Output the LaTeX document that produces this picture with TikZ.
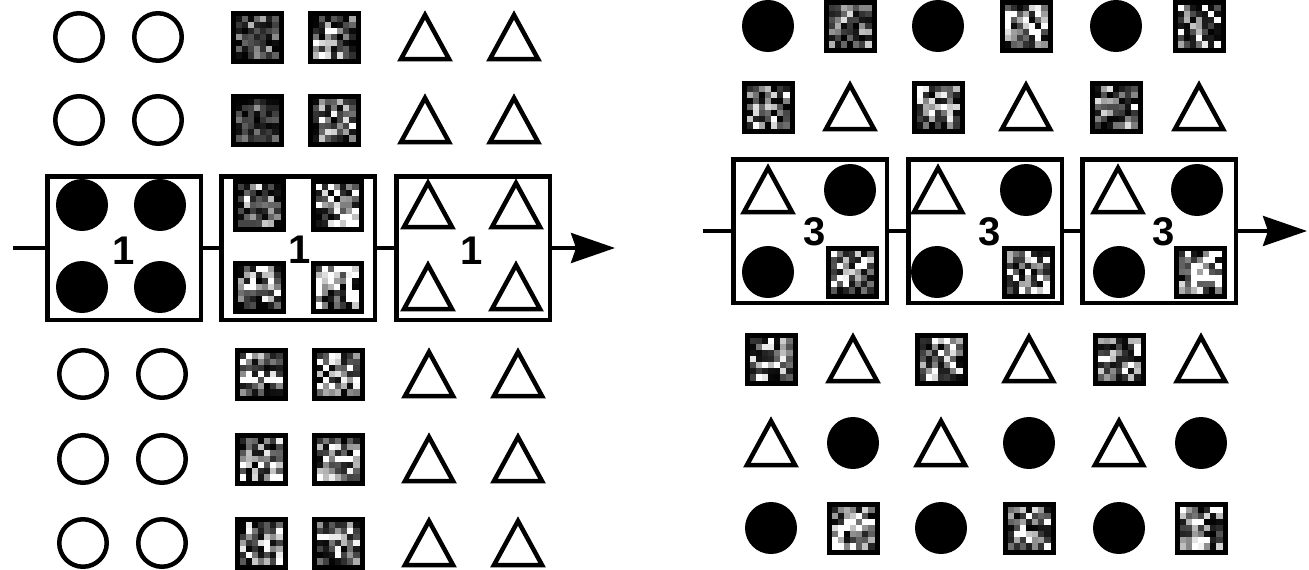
\documentclass[tikz,border=0pt]{standalone}
\usepackage{fontspec}
\setsansfont{Liberation Sans}
\usetikzlibrary{arrows.meta}
\newcommand\texsq[4]{%
  \foreach \i in {0,...,6}{\foreach \j in {0,...,6}{%
    \pgfmathtruncatemacro\g{max(0,100-#4*rnd*rnd)}%
    \fill[black!\g] ({#2-21.5+\i*6.143},{#3-21.5+\j*6.143}) rectangle ++(6.143,6.143);
  }}%
  \node[sqframe] (#1) at ({#2},{#3}) {};%
}
\newcommand\tria[3]{%
  \coordinate (#1) at ({#2},{#3});%
  \draw[tri] ({#2-24},{#3+22}) -- ({#2},{#3-22}) -- ({#2+24},{#3+22}) -- cycle;%
}
\begin{document}
\pgfmathsetseed{4711}
\begin{tikzpicture}[x=1pt,y=-1pt,
  ring/.style={circle, draw=black, line width=4.5pt, minimum size=47.5pt, inner sep=0pt},
  dot/.style={circle, fill=black, draw=black, line width=2pt, minimum size=50pt, inner sep=0pt},
  sqframe/.style={rectangle, draw=black, line width=5pt, minimum size=48pt, inner sep=0pt},
  tri/.style={draw=black, line width=4.5pt, line join=miter},
  group/.style={rectangle, draw=black, line width=4.5pt, minimum width=153.5pt, minimum height=143.5pt, inner sep=0pt},
  num/.style={font=\sffamily\bfseries\fontsize{40}{46}\selectfont, inner sep=0pt},
  link/.style={line width=3.5pt},
  flow/.style={line width=3.5pt, -{Stealth[length=44pt,width=30pt,inset=5pt]}}]
\useasboundingbox (0,0) rectangle (1309,570);
\fill[white] (0,0) rectangle (1309,570);

% ---------------- left panel ----------------
\foreach \r/\y/\d/\la/\lb in {1/37/0/90/140, 2/120/0/60/150, 5/374/4/200/190, 6/459/4/170/170, 7/543/4/200/180}{
  \node[ring] (L\r a) at ({79+\d},\y) {};
  \node[ring] (L\r b) at ({158+\d},\y) {};
  \texsq{L\r c}{257+\d}{\y}{\la}
  \texsq{L\r d}{334+\d}{\y}{\lb}
  \tria{L\r e}{425+\d}{\y}
  \tria{L\r f}{514+\d}{\y}
}
\node[group] (LB1) at (124,248) {};
\node[group] (LB2) at (298,248) {};
\node[group] (LB3) at (473,248) {};
\node[dot] (L3a) at (82,205) {};
\node[dot] (L3b) at (160,205) {};
\node[dot] (L4a) at (82,287) {};
\node[dot] (L4b) at (160,287) {};
\texsq{L3c}{259}{205}{130}
\texsq{L3d}{337}{205}{220}
\texsq{L4c}{259}{287}{220}
\texsq{L4d}{337}{287}{400}
\tria{L3e}{428}{205}
\tria{L3f}{516}{205}
\tria{L4e}{428}{287}
\tria{L4f}{516}{287}
\node[num] (LN1) at (124,251) {1};
\node[num] (LN2) at (300,250) {1};
\node[num] (LN3) at (472,251) {1};
\coordinate (Lin) at (13,248);
\coordinate (Lout) at (615,248);
\draw[link] (Lin) -- (LB1.west);
\draw[link] (LB1.east) -- (LB2.west);
\draw[link] (LB2.east) -- (LB3.west);
\draw[flow] (LB3.east) -- (Lout);

% ---------------- right panel ----------------
% row 1
\node[dot] (R1a) at (768,26) {};
\texsq{R1b}{850}{26}{150}
\node[dot] (R1c) at (938,26) {};
\texsq{R1d}{1026}{26}{220}
\node[dot] (R1e) at (1116,26) {};
\texsq{R1f}{1199}{26}{180}
% row 2
\texsq{R2a}{768}{107}{170}
\tria{R2b}{850}{107}
\texsq{R2c}{938}{107}{170}
\tria{R2d}{1026}{107}
\texsq{R2e}{1116}{107}{150}
\tria{R2f}{1199}{107}
% boxes
\node[group] (RB1) at (810,231) {};
\node[group] (RB2) at (985,231) {};
\node[group] (RB3) at (1159,231) {};
\tria{R3a}{768}{190}
\node[dot] (R3b) at (850,190) {};
\node[dot] (R4a) at (768,272) {};
\texsq{R4b}{852}{272}{190}
\tria{R3c}{938}{190}
\node[dot] (R3d) at (1026,190) {};
\node[dot] (R4c) at (937,272) {};
\texsq{R4d}{1028}{272}{210}
\tria{R3e}{1118}{190}
\node[dot] (R3f) at (1197,190) {};
\node[dot] (R4e) at (1119,272) {};
\texsq{R4f}{1200}{272}{300}
\node[num] (RN1) at (815,232) {3};
\node[num] (RN2) at (990,232) {3};
\node[num] (RN3) at (1164,232) {3};
\coordinate (Rin) at (703,231);
\coordinate (Rout) at (1307,231);
\draw[link] (Rin) -- (RB1.west);
\draw[link] (RB1.east) -- (RB2.west);
\draw[link] (RB2.east) -- (RB3.west);
\draw[flow] (RB3.east) -- (Rout);
% row 5
\texsq{R5a}{771}{359}{170}
\tria{R5b}{853}{359}
\texsq{R5c}{941}{359}{200}
\tria{R5d}{1029}{359}
\texsq{R5e}{1119}{359}{190}
\tria{R5f}{1201}{359}
% row 6
\tria{R6a}{771}{443}
\node[dot] (R6b) at (853,443) {};
\tria{R6c}{941}{443}
\node[dot] (R6d) at (1029,443) {};
\tria{R6e}{1119}{443}
\node[dot] (R6f) at (1201,443) {};
% row 7
\node[dot] (R7a) at (771,528) {};
\texsq{R7b}{853}{528}{200}
\node[dot] (R7c) at (941,528) {};
\texsq{R7d}{1029}{528}{190}
\node[dot] (R7e) at (1119,528) {};
\texsq{R7f}{1201}{528}{190}
\end{tikzpicture}
\end{document}
